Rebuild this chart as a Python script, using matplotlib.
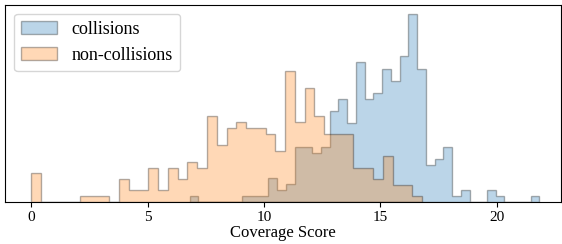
import matplotlib
matplotlib.use('Agg')
import matplotlib.pyplot as plt
import numpy as np

# per-bin counts (40 bins each, density normalised)
collisions_range = (6.81, 21.83)
collisions_counts = [1, 0, 0, 0, 0, 0, 1, 1, 1, 4,
                     2, 3, 9, 9, 8, 9, 15, 17, 13, 23,
                     17, 18, 22, 20, 24, 31, 22, 6, 7, 9,
                     1, 2, 0, 0, 2, 1, 0, 0, 0, 1]

noncollisions_range = (0.0, 16.78)
noncollisions_counts = [5, 0, 0, 0, 0, 1, 1, 1, 0, 4,
                        2, 2, 6, 2, 6, 4, 7, 6, 15, 10,
                        13, 14, 13, 13, 12, 9, 23, 14, 20, 15,
                        12, 12, 12, 6, 6, 4, 8, 3, 3, 1]

labels = ['collisions', 'non-collisions']

plt.rcParams['font.family'] = 'serif'
plt.rcParams['font.serif'] = ['Liberation Serif', 'DejaVu Serif']


def plot_hist(ax, counts, rng, label):
    edges = np.linspace(rng[0], rng[1], len(counts) + 1)
    centers = (edges[:-1] + edges[1:]) / 2
    ax.hist(centers, bins=edges, weights=counts, density=True,
            histtype='stepfilled', alpha=0.3, edgecolor='k', linewidth=1.0,
            label=label)


fig, ax = plt.subplots(figsize=(5.62, 2.44), dpi=100)

plot_hist(ax, collisions_counts, collisions_range, labels[0])
plot_hist(ax, noncollisions_counts, noncollisions_range, labels[1])

ax.set_xlim(-1.12, 22.75)
ax.set_yticks([])
ax.set_xticks([0, 5, 10, 15, 20])
ax.tick_params(axis='x', labelsize=11, pad=3)
ax.set_xlabel('Coverage Score', fontsize=12, labelpad=1)
ax.legend(loc='upper left', fontsize=13)

fig.subplots_adjust(left=0.009, right=0.998, bottom=0.173, top=0.981)
plt.savefig('out.png')
